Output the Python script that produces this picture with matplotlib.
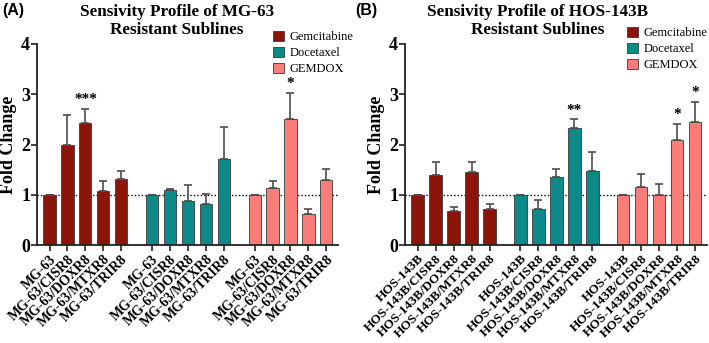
import numpy as np
import matplotlib
matplotlib.use("Agg")
import matplotlib.pyplot as plt
from matplotlib.patches import Patch

# ---- data ----
drugs = ["Gemcitabine", "Docetaxel", "GEMDOX"]
colors = ["#8C1509", "#0C8A8A", "#FA7C78"]

labels_a = ["MG-63", "MG-63/CISR8", "MG-63/DOXR8", "MG-63/MTXR8", "MG-63/TRIR8"]
gem_a = [1.00, 2.00, 2.43, 1.07, 1.32]
gem_a_err = [0.00, 0.58, 0.28, 0.21, 0.15]
doc_a = [1.00, 1.09, 0.87, 0.81, 1.72]
doc_a_err = [0.00, 0.03, 0.33, 0.20, 0.63]
gdx_a = [1.00, 1.13, 2.50, 0.61, 1.30]
gdx_a_err = [0.00, 0.15, 0.53, 0.10, 0.22]
stars_a = [["", "", "***", "", ""], ["", "", "", "", ""], ["", "", "*", "", ""]]

labels_b = ["HOS-143B", "HOS-143B/CISR8", "HOS-143B/DOXR8", "HOS-143B/MTXR8", "HOS-143B/TRIR8"]
gem_b = [1.00, 1.39, 0.67, 1.45, 0.72]
gem_b_err = [0.00, 0.26, 0.08, 0.20, 0.09]
doc_b = [1.00, 0.72, 1.35, 2.32, 1.48]
doc_b_err = [0.00, 0.17, 0.17, 0.18, 0.37]
gdx_b = [1.00, 1.15, 0.99, 2.09, 2.45]
gdx_b_err = [0.00, 0.26, 0.22, 0.32, 0.40]
stars_b = [["", "", "", "", ""], ["", "", "", "**", ""], ["", "", "", "*", "*"]]

titles = ["Sensivity Profile of MG-63\nResistant Sublines",
          "Sensivity Profile of HOS-143B\nResistant Sublines"]
panel_tags = ["(A)", "(B)"]
yticks = [0, 1, 2, 3, 4]

SERIF = ["Liberation Serif", "DejaVu Serif"]
plt.rcParams["font.family"] = SERIF

W, H = 709, 343
fig = plt.figure(figsize=(W / 100, H / 100), dpi=100)

def px_axes(l, r, b, t):
    return fig.add_axes([l / W, 1 - b / H, (r - l) / W, (b - t) / H])

group_step = 5.72
bar_w = 0.68

def draw_panel(ax, labels, vals, errs, stars, xfs):
    positions = []
    ticklabels = []
    for g in range(3):
        x = np.arange(5) + g * group_step
        ax.bar(x, vals[g], width=bar_w, color=colors[g], edgecolor="#3a3a3a",
               linewidth=0.6, zorder=2)
        ax.errorbar(x, vals[g], yerr=[np.zeros(5), errs[g]], fmt="none",
                    ecolor="#4d4d4d", elinewidth=1.2, capsize=3.2, capthick=1.2,
                    zorder=3)
        for xi, v, e, s in zip(x, vals[g], errs[g], stars[g]):
            if s:
                ax.text(xi, v + e + 0.05, s, ha="center", va="bottom",
                        fontsize=11, fontweight="bold", family=SERIF)
        positions.extend(x)
        ticklabels.extend(labels)
    ax.axhline(1, ls=(0, (1, 1.5)), color="black", lw=1.0, zorder=1)
    ax.set_ylim(0, 4)
    ax.set_xlim(-0.7, 2 * group_step + 4 + 0.65)
    ax.set_yticks(yticks)
    ax.set_yticklabels([str(t) for t in yticks], fontsize=13, fontweight="bold")
    ax.set_xticks(positions)
    ax.set_xticklabels(ticklabels, rotation=45, ha="right", rotation_mode="anchor",
                       fontsize=xfs, fontweight="bold")
    ax.tick_params(axis="both", direction="out", length=4, width=1.2, color="#222222")
    ax.tick_params(axis="y", pad=1)
    ax.tick_params(axis="x", pad=1.5)
    for sp in ["top", "right"]:
        ax.spines[sp].set_visible(False)
    for sp in ["left", "bottom"]:
        ax.spines[sp].set_linewidth(1.3)
        ax.spines[sp].set_color("#222222")
    ax.set_ylabel("Fold Change", fontsize=13, fontweight="bold", labelpad=3)

ax_a = px_axes(37, 338, 245, 44)
draw_panel(ax_a, labels_a, [gem_a, doc_a, gdx_a], [gem_a_err, doc_a_err, gdx_a_err],
           stars_a, 10)
ax_b = px_axes(405, 707, 245, 44)
draw_panel(ax_b, labels_b, [gem_b, doc_b, gdx_b], [gem_b_err, doc_b_err, gdx_b_err],
           stars_b, 9.5)

# titles
fig.text(177 / W, 1 - 4 / H, titles[0], ha="center", va="top", fontsize=12.3,
         fontweight="bold", linespacing=1.2)
fig.text(538 / W, 1 - 4 / H, titles[1], ha="center", va="top", fontsize=12.3,
         fontweight="bold", linespacing=1.2)
# panel tags
fig.text(2 / W, 1 - 3 / H, panel_tags[0], ha="left", va="top", fontsize=11.5,
         fontweight="bold", family=["Liberation Sans", "DejaVu Sans"])
fig.text(355 / W, 1 - 3 / H, panel_tags[1], ha="left", va="top", fontsize=11.5,
         fontweight="bold", family=["Liberation Sans", "DejaVu Sans"])

handles = [Patch(facecolor=c, edgecolor="#3a3a3a", linewidth=0.6) for c in colors]
for x0, y0 in [(273, 31), (627, 27)]:
    fig.legend(handles, drugs, loc="upper left", bbox_to_anchor=(x0 / W, 1 - y0 / H),
               frameon=False, fontsize=9, handlelength=0.9, handleheight=0.9,
               handletextpad=0.4, labelspacing=0.28, borderpad=0, borderaxespad=0)

fig.savefig("out.png", dpi=100)
